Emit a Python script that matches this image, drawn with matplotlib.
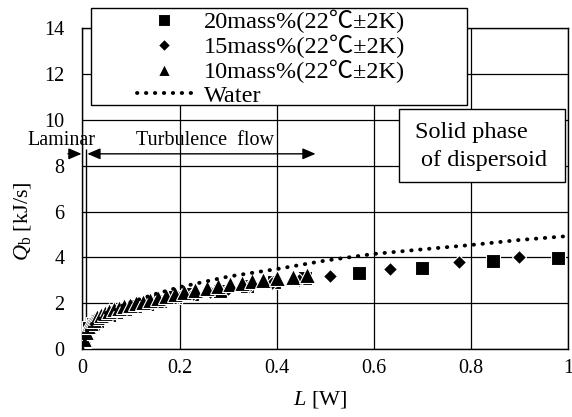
import matplotlib
matplotlib.use('Agg')
import matplotlib.pyplot as plt
from matplotlib.patches import Rectangle

plt.rcParams['font.family'] = ['Liberation Serif', 'Noto Sans CJK JP', 'DejaVu Sans']
plt.rcParams['mathtext.fontset'] = 'custom'
plt.rcParams['mathtext.rm'] = 'Liberation Serif'
plt.rcParams['mathtext.it'] = 'Liberation Serif:italic'

# ---------------- data ----------------
sq_L = [0.003, 0.008, 0.014, 0.021, 0.030, 0.041, 0.054, 0.070, 0.088, 0.109, 0.133,
        0.160, 0.190, 0.225, 0.283, 0.339, 0.395, 0.459, 0.5695, 0.699, 0.8455, 0.979]
sq_Q = [0.35, 0.65, 0.90, 1.08, 1.24, 1.38, 1.50, 1.62, 1.74, 1.86, 1.98,
        2.10, 2.26, 2.42, 2.55, 2.77, 2.92, 3.08, 3.32, 3.54, 3.84, 3.97]

di_L = [0.004, 0.009, 0.015, 0.022, 0.030, 0.040, 0.052, 0.066, 0.082, 0.100, 0.120, 0.143,
        0.168, 0.196, 0.227, 0.262, 0.300, 0.342, 0.390, 0.445, 0.510, 0.633, 0.775, 0.899]
di_Q = [0.40, 0.70, 0.95, 1.12, 1.27, 1.40, 1.52, 1.63, 1.74, 1.85, 1.96, 2.06,
        2.16, 2.27, 2.38, 2.50, 2.62, 2.75, 2.88, 3.02, 3.19, 3.49, 3.80, 4.02]

tr_L = [0.003, 0.007, 0.012, 0.017, 0.023, 0.030, 0.038, 0.046, 0.055, 0.065, 0.075, 0.086,
        0.098, 0.111, 0.125, 0.140, 0.156, 0.172, 0.190, 0.210, 0.232, 0.256, 0.279, 0.304,
        0.328, 0.349, 0.372, 0.400, 0.434, 0.462]
tr_Q = [0.45, 0.75, 1.00, 1.15, 1.28, 1.40, 1.50, 1.58, 1.66, 1.74, 1.80, 1.87,
        1.93, 2.00, 2.07, 2.14, 2.22, 2.30, 2.38, 2.48, 2.58, 2.66, 2.74, 2.82,
        2.90, 2.96, 3.02, 3.08, 3.16, 3.24]

water_L = [0.0, 0.01, 0.02, 0.05, 0.10, 0.15, 0.20, 0.30, 0.40, 0.50, 0.60, 0.70, 0.80, 0.90, 1.0]
water_Q = [0.0, 0.80, 1.10, 1.60, 2.05, 2.40, 2.70, 3.16, 3.49, 3.86, 4.15, 4.35, 4.54, 4.76, 4.93]

labels = ['20mass%(22℃±2K)', '15mass%(22℃±2K)', '10mass%(22℃±2K)', 'Water']

x_ticks = [0, 0.2, 0.4, 0.6, 0.8, 1.0]
x_tick_labels = ['0', '0.2', '0.4', '0.6', '0.8', '1']
y_ticks = [0, 2, 4, 6, 8, 10, 12, 14]
y_tick_labels = ['0', '2', '4', '6', '8', '10', '12', '14']

laminar_boundary = 0.0072
arrow_Q = 8.52
turb_end = 0.48

# ---------------- figure ----------------
W, H = 572, 417
fig = plt.figure(figsize=(W / 100, H / 100), dpi=100)
ax = fig.add_axes([82.5 / W, 1 - 349 / H, 485.5 / W, 320.7 / H])
ax.set_xlim(0, 1)
ax.set_ylim(0, 14)
ax.set_xticks(x_ticks)
ax.set_xticklabels(x_tick_labels)
ax.set_yticks(y_ticks)
ax.set_yticklabels(y_tick_labels)
ax.grid(True, color='black', lw=0.9)
ax.set_axisbelow(True)
ax.tick_params(axis='both', length=0, labelsize=14.5)
ax.tick_params(axis='x', pad=7)
ax.tick_params(axis='y', pad=13)
for s in ax.spines.values():
    s.set_linewidth(1.0)
    s.set_color('black')

ax.set_xlabel(r'$L$ [W]', fontsize=16, va='center')
ax.xaxis.set_label_coords(0.49, -0.159)
ax.set_ylabel(r'$Q_\mathrm{b}$ [kJ/s]', fontsize=16, va='center')
ax.yaxis.set_label_coords(-0.124, 0.40)

h_sq, = ax.plot(sq_L, sq_Q, ls='none', marker='s', ms=10.5, mfc='black', mec='white',
                mew=0.8, zorder=3)
h_di, = ax.plot(di_L, di_Q, ls='none', marker='D', ms=7.6, mfc='black', mec='white',
                mew=0.8, zorder=4)
h_tr, = ax.plot(tr_L, tr_Q, ls='none', marker='^', ms=11, mfc='black', mec='white',
                mew=0.8, zorder=5)
h_w, = ax.plot(water_L, water_Q, color='black', lw=2.8, ls=(0, (0.1, 2.2)),
               dash_capstyle='round', zorder=6)

# laminar boundary and arrows
ax.vlines(laminar_boundary, 0, 8.73, colors='black', lw=1, zorder=2)
ax.annotate('', xy=(-0.002, arrow_Q), xytext=(-0.03, arrow_Q),
            arrowprops=dict(arrowstyle='-|>,head_length=0.65,head_width=0.28',
                            color='black', lw=1, shrinkA=0, shrinkB=0, mutation_scale=12),
            annotation_clip=False)
ax.annotate('', xy=(turb_end, arrow_Q), xytext=(0.01, arrow_Q),
            arrowprops=dict(arrowstyle='<|-|>,head_length=0.65,head_width=0.28',
                            color='black', lw=1, shrinkA=0, shrinkB=0, mutation_scale=12),
            annotation_clip=False)
ax.text(-0.044, 9.1, 'Laminar', fontsize=14.5, ha='center', va='center', clip_on=False)
ax.text(0.252, 9.1, 'Turbulence  flow', fontsize=14.5, ha='center', va='center')

# solid phase box
ax.add_patch(Rectangle((0.651, 0.5217), 0.342, 0.2258, transform=ax.transAxes,
                       fc='white', ec='black', lw=1, zorder=10))
ax.text(0.6855, 0.6745, 'Solid phase', transform=ax.transAxes, fontsize=17.5,
        ha='left', va='center', zorder=11)
ax.text(0.698, 0.589, 'of dispersoid', transform=ax.transAxes, fontsize=17.5,
        ha='left', va='center', zorder=11)

# legend frame + legend
ax.add_patch(Rectangle((0.0169, 0.761), 0.792 - 0.0169, 1.0624 - 0.761,
                       transform=ax.transAxes, fc='white', ec='black', lw=1,
                       zorder=10, clip_on=False))
fig.legend([h_sq, h_di, h_tr, h_w], labels, loc='upper left',
           bbox_to_anchor=(137 / W, 1 - 10 / H), frameon=False, borderpad=0,
           borderaxespad=0, handlelength=2.26, handletextpad=0.5, labelspacing=0.06,
           fontsize=17.5, markerscale=0.85, numpoints=1)

fig.savefig('out.png', dpi=100)
